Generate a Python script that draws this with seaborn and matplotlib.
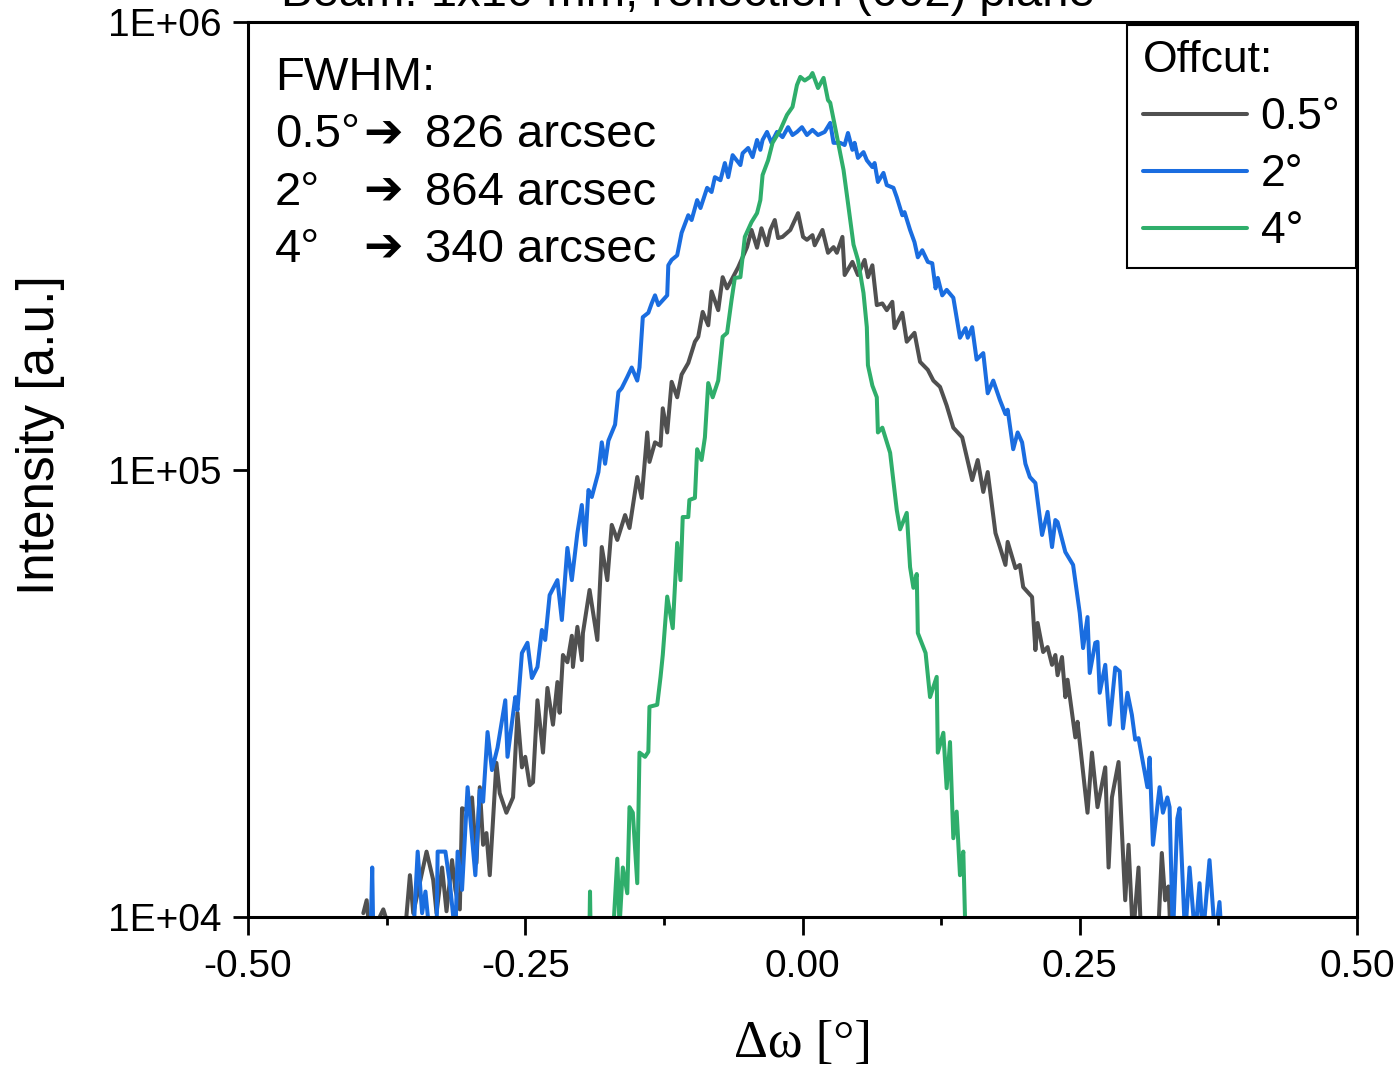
import numpy as np
import pandas as pd
import matplotlib
matplotlib.use("Agg")
import matplotlib.pyplot as plt
import seaborn as sns
from matplotlib.ticker import FixedLocator, FixedFormatter, NullLocator

# ---------------- data ----------------
omega_05 = [-0.396, -0.393, -0.390, -0.378, -0.367, -0.358, -0.354, -0.351, -0.339, -0.333,
            -0.330, -0.325, -0.321, -0.316, -0.313, -0.309, -0.307, -0.302, -0.298, -0.294,
            -0.291, -0.288, -0.285, -0.282, -0.276, -0.273, -0.267, -0.261, -0.257, -0.253,
            -0.250, -0.246, -0.243, -0.239, -0.234, -0.230, -0.225, -0.221, -0.219, -0.216,
            -0.212, -0.208, -0.207, -0.203, -0.199, -0.198, -0.192, -0.185, -0.181, -0.176,
            -0.172, -0.167, -0.160, -0.156, -0.149, -0.145, -0.140, -0.138, -0.133, -0.128,
            -0.126, -0.122, -0.118, -0.113, -0.109, -0.103, -0.097, -0.094, -0.090, -0.085,
            -0.082, -0.076, -0.072, -0.068, -0.063, -0.058, -0.054, -0.050, -0.046, -0.041,
            -0.037, -0.032, -0.029, -0.025, -0.022, -0.018, -0.011, -0.004, 0.0005, 0.004,
            0.009, 0.011, 0.018, 0.023, 0.028, 0.031, 0.036, 0.038, 0.045, 0.050,
            0.056, 0.059, 0.063, 0.067, 0.072, 0.076, 0.081, 0.083, 0.090, 0.094,
            0.101, 0.106, 0.113, 0.118, 0.124, 0.130, 0.136, 0.144, 0.148, 0.153,
            0.158, 0.163, 0.167, 0.174, 0.178, 0.183, 0.185, 0.192, 0.196, 0.199,
            0.207, 0.210, 0.212, 0.217, 0.221, 0.225, 0.228, 0.230, 0.234, 0.237,
            0.239, 0.246, 0.248, 0.257, 0.261, 0.266, 0.273, 0.276, 0.279, 0.285,
            0.291, 0.294, 0.298, 0.303, 0.306, 0.313, 0.321, 0.324, 0.327, 0.330,
            0.332]
int_05 = [10200, 10900, 9000, 10400, 8500, 9500, 12400, 10200, 14000, 12100,
          10200, 12900, 10300, 13400, 11500, 10400, 17500, 17300, 18500, 13200,
          19500, 14500, 15400, 12400, 22100, 18900, 17100, 18500, 28600, 21600,
          22800, 19700, 20000, 30500, 23300, 32500, 26900, 33500, 28600, 38500,
          37100, 42500, 36200, 44500, 37500, 43100, 53800, 41600, 67100, 56600,
          75200, 69600, 79100, 74000, 96200, 86400, 121000, 104000, 115000, 113000,
          137000, 121000, 157000, 145000, 163000, 173000, 193000, 198000, 225000, 210000,
          250000, 227000, 269000, 254000, 268000, 283000, 298000, 314000, 343000, 313000,
          346000, 317000, 343000, 361000, 329000, 331000, 343000, 374000, 331000, 326000,
          334000, 317000, 343000, 305000, 314000, 305000, 331000, 272000, 291000, 272000,
          294000, 269000, 286000, 233000, 235000, 227000, 237000, 207000, 224000, 193000,
          202000, 174000, 167000, 158000, 153000, 139000, 124000, 118000, 107000, 94700,
          105000, 89100, 98700, 72100, 67100, 61200, 68900, 60200, 61200, 54600,
          51900, 39500, 45400, 39100, 40100, 36600, 38500, 34700, 38100, 31000,
          33900, 25200, 27300, 17100, 23300, 17600, 21600, 12900, 18500, 22200,
          10900, 14500, 9000, 12900, 8000, 8000, 9500, 13900, 10900, 11700,
          9000]

omega_2 = [-0.390, -0.388, -0.387, -0.370, -0.351, -0.347, -0.343, -0.340, -0.336, -0.330,
           -0.329, -0.322, -0.318, -0.313, -0.311, -0.307, -0.302, -0.295, -0.291, -0.288,
           -0.284, -0.280, -0.275, -0.268, -0.266, -0.259, -0.257, -0.253, -0.248, -0.244,
           -0.239, -0.235, -0.232, -0.228, -0.221, -0.217, -0.212, -0.208, -0.203, -0.199,
           -0.196, -0.193, -0.190, -0.184, -0.181, -0.178, -0.175, -0.169, -0.166, -0.163,
           -0.158, -0.154, -0.149, -0.147, -0.144, -0.139, -0.136, -0.133, -0.130, -0.122,
           -0.121, -0.118, -0.113, -0.109, -0.103, -0.100, -0.095, -0.092, -0.086, -0.082,
           -0.079, -0.074, -0.070, -0.067, -0.063, -0.056, -0.054, -0.049, -0.045, -0.041,
           -0.038, -0.036, -0.032, -0.028, -0.023, -0.018, -0.013, -0.009, -0.005, -0.0005,
           0.004, 0.009, 0.014, 0.020, 0.025, 0.028, 0.034, 0.038, 0.041, 0.045,
           0.047, 0.050, 0.055, 0.058, 0.063, 0.065, 0.068, 0.073, 0.076, 0.082,
           0.085, 0.090, 0.092, 0.097, 0.101, 0.104, 0.108, 0.113, 0.117, 0.120,
           0.122, 0.126, 0.130, 0.136, 0.142, 0.147, 0.149, 0.153, 0.157, 0.163,
           0.167, 0.172, 0.178, 0.183, 0.185, 0.190, 0.194, 0.198, 0.201, 0.205,
           0.210, 0.216, 0.221, 0.225, 0.228, 0.230, 0.237, 0.244, 0.250, 0.253,
           0.257, 0.259, 0.264, 0.266, 0.268, 0.273, 0.277, 0.282, 0.286, 0.289,
           0.293, 0.297, 0.300, 0.303, 0.311, 0.313, 0.316, 0.322, 0.325, 0.329,
           0.331, 0.334, 0.338, 0.340, 0.345, 0.349, 0.354, 0.358, 0.361, 0.367,
           0.372, 0.376, 0.378]
int_2 = [8000, 12900, 9000, 8000, 9000, 14000, 10200, 11400, 9000, 9000,
         14000, 14000, 11900, 9000, 14000, 11500, 19500, 12400, 19200, 18100,
         25900, 21300, 23900, 30500, 22800, 31000, 29000, 38900, 41000, 34200,
         36200, 43800, 41600, 52400, 56600, 46100, 66800, 56600, 72100, 83300,
         67800, 90000, 86800, 98700, 115000, 103000, 116000, 126000, 149000, 152000,
         161000, 169000, 158000, 169000, 219000, 224000, 235000, 245000, 233000, 245000,
         286000, 294000, 301000, 338000, 370000, 361000, 400000, 384000, 426000, 417000,
         450000, 443000, 484000, 450000, 504000, 479000, 509000, 523000, 499000, 545000,
         518000, 545000, 568000, 537000, 568000, 553000, 582000, 559000, 568000, 582000,
         559000, 574000, 559000, 568000, 595000, 537000, 537000, 531000, 565000, 518000,
         537000, 497000, 512000, 491000, 474000, 484000, 439000, 460000, 432000, 426000,
         406000, 370000, 376000, 343000, 322000, 298000, 309000, 291000, 289000, 254000,
         268000, 245000, 252000, 242000, 197000, 207000, 197000, 208000, 176000, 182000,
         148000, 158000, 143000, 133000, 136000, 111000, 121000, 115000, 103000, 96200,
         93300, 71400, 80400, 67100, 77100, 76300, 65400, 61200, 47800, 39900,
         46800, 35100, 41000, 41200, 31700, 36600, 26900, 36100, 35400, 26400,
         31700, 28300, 24900, 25100, 19500, 22700, 14500, 19500, 17100, 18500,
         17600, 9000, 16600, 17500, 9000, 12900, 9000, 11900, 9000, 13400,
         9000, 10800, 9000]

omega_4 = [-0.1925, -0.1916, -0.1907, -0.171, -0.167, -0.165, -0.162, -0.158, -0.156, -0.153,
           -0.149, -0.147, -0.142, -0.139, -0.138, -0.131, -0.128, -0.126, -0.122, -0.117,
           -0.113, -0.110, -0.108, -0.103, -0.102, -0.097, -0.095, -0.091, -0.088, -0.085,
           -0.081, -0.076, -0.072, -0.068, -0.064, -0.061, -0.056, -0.052, -0.046, -0.041,
           -0.038, -0.036, -0.031, -0.027, -0.020, -0.014, -0.009, -0.005, -0.002, 0.002,
           0.007, 0.009, 0.014, 0.019, 0.023, 0.025, 0.029, 0.034, 0.037, 0.041,
           0.046, 0.050, 0.055, 0.058, 0.059, 0.063, 0.067, 0.068, 0.072, 0.079,
           0.085, 0.088, 0.094, 0.097, 0.100, 0.103, 0.104, 0.111, 0.115, 0.121,
           0.122, 0.127, 0.130, 0.133, 0.136, 0.139, 0.142, 0.145, 0.147]
int_4 = [8000, 11400, 8000, 9000, 13500, 9500, 12900, 11300, 17600, 17100,
         11900, 23300, 22800, 23400, 29500, 29800, 34400, 38500, 52000, 44200,
         68500, 56600, 78300, 78300, 85500, 86400, 111000, 105000, 118000, 156000,
         145000, 158000, 198000, 202000, 239000, 268000, 269000, 331000, 357000, 374000,
         400000, 455000, 491000, 537000, 574000, 620000, 646000, 723000, 754000, 740000,
         754000, 769000, 712000, 750000, 669000, 660000, 589000, 509000, 467000, 394000,
         318000, 294000, 248000, 208000, 171000, 154000, 145000, 121000, 124000, 109000,
         81200, 73500, 80000, 60500, 54400, 58400, 43100, 38900, 31000, 34400,
         23300, 25800, 19400, 24600, 15000, 17200, 12400, 14000, 9000]

offcut_labels = ["0.5°", "2°", "4°"]
colors = ["#505050", "#1a6de0", "#2fae6b"]

x_ticks = [-0.50, -0.25, 0.00, 0.25, 0.50]
x_tick_labels = ["-0.50", "-0.25", "0.00", "0.25", "0.50"]
x_minor = [-0.375, -0.125, 0.125, 0.375]
y_ticks = [1e4, 1e5, 1e6]
y_tick_labels = ["1E+04", "1E+05", "1E+06"]

fwhm_offcuts = ["0.5°", "2°", "4°"]
fwhm_values = ["826 arcsec", "864 arcsec", "340 arcsec"]

# ---------------- build frame ----------------
df = pd.concat([
    pd.DataFrame({"omega": omega_05, "intensity": int_05, "offcut": offcut_labels[0]}),
    pd.DataFrame({"omega": omega_2, "intensity": int_2, "offcut": offcut_labels[1]}),
    pd.DataFrame({"omega": omega_4, "intensity": int_4, "offcut": offcut_labels[2]}),
], ignore_index=True)

sns.set_theme(style="white")
plt.rcParams["font.family"] = ["Liberation Sans", "DejaVu Sans"]
plt.rcParams["text.color"] = "black"
plt.rcParams["axes.labelcolor"] = "black"
plt.rcParams["xtick.color"] = "black"
plt.rcParams["ytick.color"] = "black"

fig = plt.figure(figsize=(13.98, 10.74), dpi=100)
ax = fig.add_axes([248/1398, 1-917/1074, 1109/1398, 895/1074])

lw = 2.9
sns.lineplot(data=df, x="omega", y="intensity", hue="offcut",
             palette=colors, sort=False, estimator=None,
             linewidth=lw, ax=ax, legend=False)

ax.set_yscale("log")
ax.set_xlim(-0.5, 0.5)
ax.set_ylim(1e4, 1e6)

ax.xaxis.set_major_locator(FixedLocator(x_ticks))
ax.xaxis.set_major_formatter(FixedFormatter(x_tick_labels))
ax.xaxis.set_minor_locator(FixedLocator(x_minor))
ax.yaxis.set_major_locator(FixedLocator(y_ticks))
ax.yaxis.set_major_formatter(FixedFormatter(y_tick_labels))
ax.yaxis.set_minor_locator(NullLocator())

ax.tick_params(axis="x", which="major", direction="out", length=13, width=2,
               labelsize=28, pad=10, colors="black", bottom=True, top=False)
ax.tick_params(axis="x", which="minor", direction="out", length=6, width=2,
               colors="black", bottom=True, top=False)
ax.tick_params(axis="y", which="major", direction="out", length=11, width=2,
               labelsize=28, pad=8, colors="black", left=True, right=False)

for s in ax.spines.values():
    s.set_visible(True)
    s.set_linewidth(2.2)
    s.set_color("black")

ax.set_xlabel("Δω [°]", fontsize=38, family=["Liberation Serif", "DejaVu Serif"],
              color="black")
ax.set_ylabel("Intensity [a.u.]", fontsize=37, color="black")
ax.xaxis.set_label_coords(0.5, -0.115)
ax.yaxis.set_label_coords(-0.165, 0.5385)

# legend
handles = [plt.Line2D([], [], color=c, linewidth=lw) for c in colors]
leg = ax.legend(handles, offcut_labels, title="Offcut:", loc="upper right",
                bbox_to_anchor=(0.999, 0.997), borderaxespad=0, fontsize=32,
                title_fontsize=32, frameon=True, fancybox=False, framealpha=1,
                edgecolor="black", handlelength=2.35, handletextpad=0.3,
                labelspacing=0.36, borderpad=0.35, alignment="left")
leg.get_frame().set_linewidth(1.5)
for t in leg.get_texts():
    t.set_color("black")
leg.get_title().set_color("black")

# FWHM annotation
fs = 34
ax.text(0.0243, 0.924, "FWHM:", transform=ax.transAxes, fontsize=fs, va="baseline",
        color="black")
ys = [0.860, 0.7955, 0.7318]
for y, oc, val in zip(ys, fwhm_offcuts, fwhm_values):
    ax.text(0.0243, y, oc, transform=ax.transAxes, fontsize=fs, va="baseline",
            color="black")
    ax.text(0.1037, y, "➔", transform=ax.transAxes, fontsize=fs, va="baseline",
            family=["DejaVu Sans"], fontweight="bold", color="black")
    ax.text(0.1596, y, val, transform=ax.transAxes, fontsize=fs, va="baseline",
            color="black")

# title (cut off at the top of the figure, as in the reference)
fig.text(0.4917, 1 - 6/1074, "Beam: 1x10 mm, reflection (002) plane",
         ha="center", va="baseline", fontsize=34, color="black")

fig.savefig("out.png", dpi=100)
